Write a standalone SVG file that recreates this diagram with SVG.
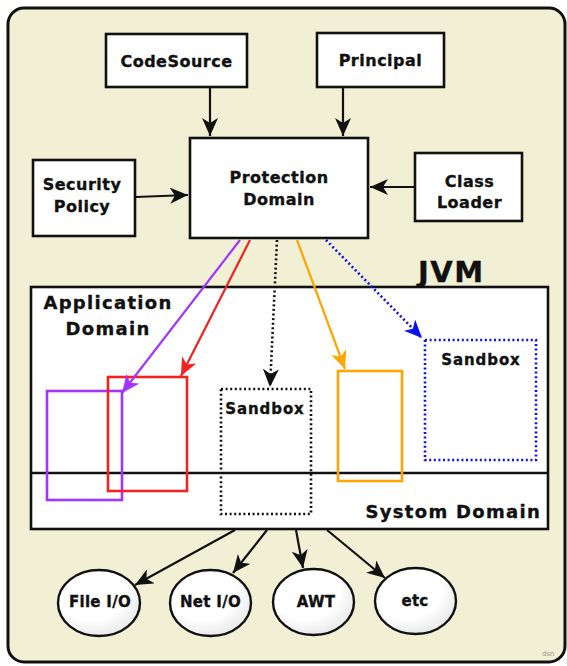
<svg xmlns="http://www.w3.org/2000/svg" width="567" height="666" viewBox="0 0 567 666">
  <style>
    .box { fill: #ffffff; stroke: #111111; stroke-width: 2.6; }
    .lbl { font-family: "DejaVu Sans", Verdana, sans-serif; font-weight: bold; fill: #111111; stroke: #111111; stroke-width: 0.35px; font-size: 16px; letter-spacing: 0.5px; text-anchor: middle; }
    .big { font-size: 18px; letter-spacing: 1.3px; }
    .sb { font-size: 15px; letter-spacing: 0.9px; }
    .io { font-size: 15px; letter-spacing: 0.3px; }
    .conn { fill: none; stroke-width: 2.2; }
    .dot { stroke-width: 2.6; stroke-dasharray: 2 2.6; }
  </style>
  <defs>
    <marker id="ahBlack" markerUnits="userSpaceOnUse" markerWidth="19" markerHeight="16" refX="18" refY="8" orient="auto">
      <path d="M0,0 L18,8 L0,16 L5,8 Z" fill="#111111"/>
    </marker>
    <marker id="ahPurple" markerUnits="userSpaceOnUse" markerWidth="19" markerHeight="16" refX="18" refY="8" orient="auto">
      <path d="M0,0 L18,8 L0,16 L5,8 Z" fill="#a234ff"/>
    </marker>
    <marker id="ahRed" markerUnits="userSpaceOnUse" markerWidth="19" markerHeight="16" refX="18" refY="8" orient="auto">
      <path d="M0,0 L18,8 L0,16 L5,8 Z" fill="#f02222"/>
    </marker>
    <marker id="ahOrange" markerUnits="userSpaceOnUse" markerWidth="19" markerHeight="16" refX="18" refY="8" orient="auto">
      <path d="M0,0 L18,8 L0,16 L5,8 Z" fill="#ffa500"/>
    </marker>
    <marker id="ahBlue" markerUnits="userSpaceOnUse" markerWidth="19" markerHeight="16" refX="18" refY="8" orient="auto">
      <path d="M0,0 L18,8 L0,16 L5,8 Z" fill="#0a10f0"/>
    </marker>
    <radialGradient id="ballFill" cx="0.4" cy="0.35" r="0.75">
      <stop offset="0.55" stop-color="#ffffff"/>
      <stop offset="1" stop-color="#e2e2e2"/>
    </radialGradient>
  </defs>

  <!-- background panel -->
  <rect x="8" y="8" width="557" height="654" rx="16" ry="16" fill="#f1efd4" stroke="#111111" stroke-width="3"/>

  <!-- policy inputs -->
  <g id="codesource">
    <rect class="box" x="106" y="34" width="141" height="53"/>
    <text class="lbl" x="176.5" y="67">CodeSource</text>
  </g>
  <g id="principal">
    <rect class="box" x="317" y="33" width="127" height="54"/>
    <text class="lbl" x="380.5" y="66">Principal</text>
  </g>
  <g id="security-policy">
    <rect class="box" x="33" y="160" width="102" height="76"/>
    <text class="lbl" x="82" y="190">Security</text>
    <text class="lbl" x="82" y="212">Policy</text>
  </g>
  <g id="class-loader">
    <rect class="box" x="415" y="153" width="107" height="68"/>
    <text class="lbl" x="469.5" y="187">Class</text>
    <text class="lbl" x="469.5" y="208">Loader</text>
  </g>
  <g id="protection-domain">
    <rect class="box" x="190" y="138" width="178" height="100"/>
    <text class="lbl" x="279" y="183">Protection</text>
    <text class="lbl" x="279" y="205">Domain</text>
  </g>

  <!-- virtual machine with application / system areas -->
  <g id="jvm">
    <text class="lbl" x="418" y="282" style="font-size:29px;letter-spacing:1.5px;text-anchor:start">JVM</text>
    <rect class="box" x="31" y="287" width="517" height="242"/>
    <line x1="31" y1="473" x2="548" y2="473" stroke="#111111" stroke-width="2.4"/>
    <text class="lbl big" x="108" y="309">Application</text>
    <text class="lbl big" x="108" y="335">Domain</text>
    <text class="lbl big" x="541" y="518" style="text-anchor:end">Systom Domain</text>
  </g>

  <!-- protection areas inside the VM -->
  <g id="domain-purple">
    <rect x="47" y="391" width="75" height="109" fill="none" stroke="#a234ff" stroke-width="2.6"/>
  </g>
  <g id="domain-red">
    <rect x="108" y="377" width="79" height="114" fill="none" stroke="#f02222" stroke-width="2.6"/>
  </g>
  <g id="sandbox-black">
    <rect x="221" y="389" width="90" height="125" fill="none" stroke="#111111" class="dot"/>
    <text class="lbl sb" x="265" y="414">Sandbox</text>
  </g>
  <g id="domain-orange">
    <rect x="338" y="371" width="64" height="110" fill="none" stroke="#ffa500" stroke-width="2.6"/>
  </g>
  <g id="sandbox-blue">
    <rect x="425" y="340" width="111" height="120" fill="none" stroke="#0a10f0" class="dot"/>
    <text class="lbl sb" x="481" y="365">Sandbox</text>
  </g>

  <!-- system resources -->
  <g id="file-io">
    <ellipse cx="99" cy="603" rx="41" ry="33" fill="url(#ballFill)" stroke="#111111" stroke-width="2.4"/>
    <text class="lbl io" x="100" y="607">File I/O</text>
  </g>
  <g id="net-io">
    <ellipse cx="210.5" cy="603" rx="40.5" ry="33" fill="url(#ballFill)" stroke="#111111" stroke-width="2.4"/>
    <text class="lbl io" x="210.5" y="607">Net I/O</text>
  </g>
  <g id="awt">
    <ellipse cx="313.5" cy="602" rx="40.5" ry="33" fill="url(#ballFill)" stroke="#111111" stroke-width="2.4"/>
    <text class="lbl io" x="316" y="607">AWT</text>
  </g>
  <g id="etc">
    <ellipse cx="415.5" cy="601" rx="40.5" ry="33" fill="url(#ballFill)" stroke="#111111" stroke-width="2.4"/>
    <text class="lbl io" x="415" y="606">etc</text>
  </g>

  <!-- connectors -->
  <g id="connectors">
    <line class="conn" stroke="#111111" x1="210" y1="88" x2="210" y2="136" marker-end="url(#ahBlack)"/>
    <line class="conn" stroke="#111111" x1="343" y1="88" x2="343" y2="136" marker-end="url(#ahBlack)"/>
    <line class="conn" stroke="#111111" x1="136" y1="197" x2="188" y2="195" marker-end="url(#ahBlack)"/>
    <line class="conn" stroke="#111111" x1="414" y1="187" x2="370" y2="187" marker-end="url(#ahBlack)"/>

    <line class="conn" stroke="#a234ff" x1="240" y1="240" x2="122" y2="393" marker-end="url(#ahPurple)"/>
    <line class="conn" stroke="#f02222" x1="250" y1="240" x2="181" y2="376" marker-end="url(#ahRed)"/>
    <line class="conn dot" stroke="#111111" x1="277" y1="240" x2="270" y2="387" marker-end="url(#ahBlack)"/>
    <line class="conn" stroke="#ffa500" x1="297" y1="240" x2="345" y2="369" marker-end="url(#ahOrange)"/>
    <line class="conn dot" stroke="#0a10f0" x1="326" y1="240" x2="422" y2="338" marker-end="url(#ahBlue)"/>

    <line class="conn" stroke="#111111" x1="235" y1="530" x2="135" y2="585" marker-end="url(#ahBlack)"/>
    <line class="conn" stroke="#111111" x1="267" y1="530" x2="233" y2="573" marker-end="url(#ahBlack)"/>
    <line class="conn" stroke="#111111" x1="296" y1="530" x2="303" y2="568" marker-end="url(#ahBlack)"/>
    <line class="conn" stroke="#111111" x1="327" y1="530" x2="385" y2="578" marker-end="url(#ahBlack)"/>
  </g>

  <text x="542" y="656" font-family="'DejaVu Sans', sans-serif" font-size="7" fill="#9a9a8a">dsn</text>
</svg>
